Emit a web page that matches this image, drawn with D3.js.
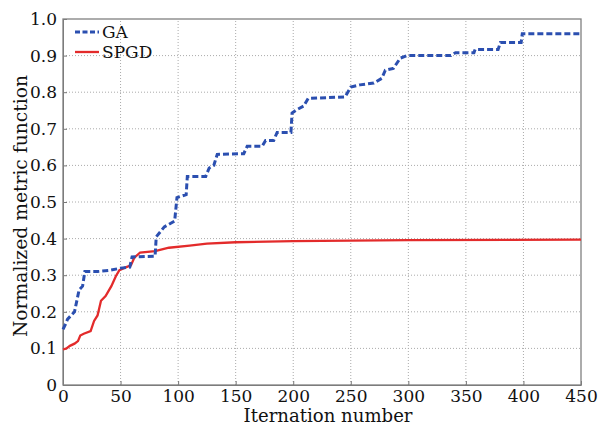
<!DOCTYPE html>
<html>
<head>
<meta charset="utf-8">
<script src="https://cdn.jsdelivr.net/npm/d3@7"></script>
<style>
  body { margin: 0; background: #fff; }
  text { font-family: "DejaVu Serif", "Liberation Serif", serif; }
</style>
</head>
<body>
<svg id="chart" width="601" height="427"></svg>
<script>
const xTicks = [0, 50, 100, 150, 200, 250, 300, 350, 400, 450];
const yTicks = [0, 0.1, 0.2, 0.3, 0.4, 0.5, 0.6, 0.7, 0.8, 0.9, 1.0];
const yTickLabels = ["0", "0.1", "0.2", "0.3", "0.4", "0.5", "0.6", "0.7", "0.8", "0.9", "1.0"];

// GA (step-like best-so-far curve)
const gaX = [0, 2, 4, 7, 10, 12, 14, 17, 19, 30, 40, 48, 52, 58, 60, 80, 81, 88, 97, 99, 107, 108, 124, 127, 131, 134, 157, 160, 173, 176, 183, 186, 198, 199, 203, 209, 213, 245, 250, 258, 270, 277, 280, 287, 293, 299, 337, 341, 357, 358, 378, 380, 398, 399, 450];
const gaY = [0.152, 0.165, 0.18, 0.19, 0.2, 0.23, 0.26, 0.27, 0.31, 0.31, 0.313, 0.318, 0.32, 0.322, 0.35, 0.352, 0.405, 0.432, 0.448, 0.512, 0.52, 0.57, 0.57, 0.593, 0.6, 0.63, 0.632, 0.652, 0.652, 0.668, 0.668, 0.69, 0.69, 0.743, 0.752, 0.762, 0.783, 0.787, 0.814, 0.82, 0.825, 0.838, 0.86, 0.865, 0.893, 0.9, 0.9, 0.908, 0.908, 0.917, 0.917, 0.936, 0.936, 0.96, 0.96];

// SPGD
const spgdX = [0, 3, 6, 10, 13, 15, 18, 24, 27, 30, 33, 37, 42, 46, 49, 55, 59, 62, 67, 80, 92, 110, 125, 150, 200, 300, 450];
const spgdY = [0.097, 0.1, 0.107, 0.113, 0.12, 0.135, 0.14, 0.147, 0.175, 0.19, 0.23, 0.243, 0.27, 0.298, 0.314, 0.322, 0.327, 0.348, 0.362, 0.366, 0.375, 0.381, 0.386, 0.39, 0.393, 0.396, 0.397];

const width = 601;
const height = 427;
const margin = {top: 19, right: 20, bottom: 42, left: 63};

const svg = d3.select("#chart");

const x = d3.scaleLinear().domain([0, 450]).range([margin.left, width - margin.right]);
const y = d3.scaleLinear().domain([0, 1]).range([height - margin.bottom, margin.top]);

// grid
svg.append("g")
    .attr("stroke", "#aaa")
    .attr("stroke-width", 1)
    .attr("stroke-dasharray", "1,2")
    .selectAll("line")
    .data(xTicks.slice(1, -1))
    .join("line")
    .attr("x1", d => x(d)).attr("x2", d => x(d))
    .attr("y1", y(0)).attr("y2", y(1));

svg.append("g")
    .attr("stroke", "#aaa")
    .attr("stroke-width", 1)
    .attr("stroke-dasharray", "1,2")
    .selectAll("line")
    .data(yTicks.slice(1, -1))
    .join("line")
    .attr("x1", x(0)).attr("x2", x(450))
    .attr("y1", d => y(d)).attr("y2", d => y(d));

// axes
const xAxis = svg.append("g")
    .attr("transform", `translate(0,${y(0)})`)
    .call(d3.axisBottom(x).tickValues(xTicks).tickSizeInner(-4).tickSizeOuter(0).tickPadding(4));
const yAxis = svg.append("g")
    .attr("transform", `translate(${x(0)},0)`)
    .call(d3.axisLeft(y).tickValues(yTicks).tickFormat((d, i) => yTickLabels[i]).tickSizeInner(-4).tickSizeOuter(0).tickPadding(6));

[xAxis, yAxis].forEach(g => {
    g.selectAll("path, line").attr("stroke", "#777");
    g.selectAll("text").attr("fill", "#111").style("font-size", "17px")
        .style("font-family", "'DejaVu Serif', serif");
});
xAxis.selectAll("text").attr("dy", "0.75em");

// frame
svg.append("rect")
    .attr("x", x(0)).attr("y", y(1))
    .attr("width", x(450) - x(0)).attr("height", y(0) - y(1))
    .attr("fill", "none").attr("stroke", "#808080").attr("stroke-width", 1.3);

const line = d3.line().x(d => x(d[0])).y(d => y(d[1]));

svg.append("path")
    .datum(spgdX.map((d, i) => [d, spgdY[i]]))
    .attr("fill", "none")
    .attr("stroke", "#e32b2b")
    .attr("stroke-width", 2.3)
    .attr("d", line);

svg.append("path")
    .datum(gaX.map((d, i) => [d, gaY[i]]))
    .attr("fill", "none")
    .attr("stroke", "#2b4fb0")
    .attr("stroke-width", 3)
    .attr("stroke-dasharray", "6,3")
    .attr("d", line);

// legend
const legend = svg.append("g").attr("transform", `translate(${x(0) + 12},${y(1) + 13})`);
legend.append("line").attr("x1", 0).attr("x2", 24).attr("y1", 0).attr("y2", 0)
    .attr("stroke", "#2b4fb0").attr("stroke-width", 3).attr("stroke-dasharray", "5,2.5");
legend.append("text").attr("x", 27).attr("y", 0).attr("dy", "0.36em")
    .style("font-size", "17px").attr("fill", "#111").text("GA");
legend.append("line").attr("x1", 0).attr("x2", 24).attr("y1", 20).attr("y2", 20)
    .attr("stroke", "#e32b2b").attr("stroke-width", 2.3);
legend.append("text").attr("x", 27).attr("y", 20).attr("dy", "0.36em")
    .style("font-size", "17px").attr("fill", "#111").text("SPGD");

// axis titles
svg.append("text")
    .attr("x", (x(0) + x(450)) / 2 + 6)
    .attr("y", height - 5)
    .attr("text-anchor", "middle")
    .attr("textLength", 169)
    .attr("lengthAdjust", "spacingAndGlyphs")
    .style("font-size", "18px")
    .attr("fill", "#111")
    .text("Iternation number");

svg.append("text")
    .attr("transform", `translate(27,206) rotate(-90)`)
    .attr("text-anchor", "middle")
    .attr("textLength", 262)
    .attr("lengthAdjust", "spacingAndGlyphs")
    .style("font-size", "19px")
    .attr("fill", "#111")
    .text("Normalized metric function");
</script>
</body>
</html>
